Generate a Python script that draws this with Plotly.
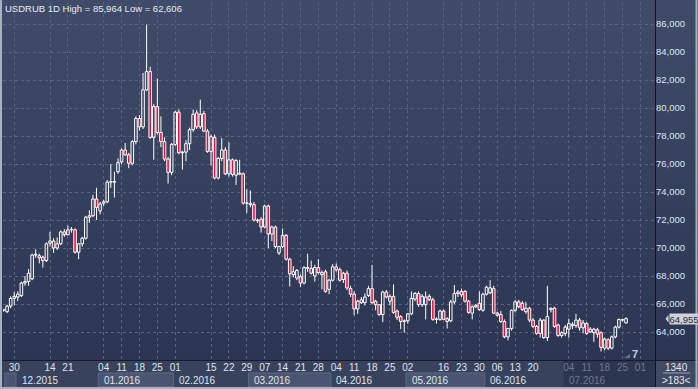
import plotly.graph_objects as go
import pandas as pd

# ---------------- data ----------------
open_ = [65.55, 65.45, 65.85, 66.4, 66.5, 66.6, 67.5, 67.6, 67.8, 69.5,
         69.45, 69.35, 69.1, 70.35, 70.5, 70.0, 70.3, 71.15, 70.95, 71.3,
         71.3, 69.7, 70.3, 70.7, 72.2, 72.3, 73.5, 72.65, 73.2, 73.3,
         74.7, 74.75, 75.45, 76.15, 77.0, 76.65, 76.05, 77.6, 79.25, 78.65,
         81.3, 82.6, 77.9, 80.1, 78.25, 77.6, 76.35, 75.4, 77.4, 79.7,
         76.8, 76.85, 77.45, 78.45, 79.65, 78.65, 79.6, 78.35, 76.9, 77.9,
         75.0, 76.4, 77.0, 75.3, 76.3, 75.2, 75.35, 75.3, 73.2, 73.1,
         73.1, 72.0, 72.05, 71.5, 73.0, 71.0, 71.5, 69.65, 70.1, 70.9,
         69.2, 68.1, 67.85, 67.95, 67.5, 68.6, 68.55, 68.0, 68.6, 68.25,
         68.3, 67.05, 67.7, 68.65, 68.45, 67.75, 68.2, 67.1, 66.7, 65.65,
         66.3, 66.1, 66.6, 67.1, 66.2, 65.95, 65.25, 66.85, 66.2, 66.55,
         65.5, 65.1, 64.75, 64.8, 65.3, 66.35, 66.75, 65.95, 65.95, 66.55,
         66.3, 64.9, 64.9, 65.5, 64.95, 64.8, 66.15, 66.75, 66.9, 66.9,
         66.2,
         65.35, 65.8, 66.05, 65.55, 66.7, 66.8, 67.1, 65.35, 65.25, 64.75,
         63.65, 64.25, 65.55, 66.15, 66.05, 65.45, 65.7, 64.85, 64.4, 63.9,
         64.85, 63.6, 65.6, 65.7, 64.5, 63.75, 63.9, 64.2, 64.45, 64.45,
         64.85, 64.3, 64.6, 64.2, 63.95, 64.15, 63.95, 62.85, 63.45, 62.85,
         63.65, 64.35, 64.88, 64.65]
high = [65.65, 65.95, 66.55, 66.85, 66.9, 67.6, 68.0, 68.5, 69.6, 69.9,
        69.6, 69.45, 70.4, 71.15, 70.7, 70.75, 71.25, 71.35, 71.6, 71.5,
        71.4, 70.35, 70.8, 72.3, 72.7, 73.8, 74.3, 73.3, 73.45, 74.85,
        76.0, 75.45, 76.4, 77.1, 77.5, 76.8, 77.7, 79.4, 79.5, 82.5,
        85.964, 82.95, 80.3, 82.1, 79.4, 77.9, 76.5, 77.5, 79.8, 79.9,
        76.95, 77.7, 78.6, 79.9, 79.85, 80.6, 79.8, 78.5, 78.1, 78.1,
        76.5, 77.85, 77.2, 77.55, 76.4, 76.35, 76.3, 75.4, 74.2, 74.1,
        73.3, 72.1, 72.2, 73.1, 73.1, 71.6, 71.6, 70.15, 71.4, 71.0,
        69.3, 68.7, 68.5, 68.1, 68.7, 69.6, 69.1, 68.8, 69.2, 68.4,
        68.45, 67.8, 68.85, 68.9, 68.6, 68.3, 68.4, 67.3, 66.9, 66.3,
        66.5, 66.75, 67.3, 68.79, 66.3, 66.0, 66.95, 67.0, 66.7, 67.4,
        65.6, 65.2, 64.9, 65.35, 66.9, 66.85, 66.9, 66.7, 66.9, 66.7,
        66.45, 65.05, 65.6, 65.6, 65.05, 66.3, 67.35, 67.0, 67.1, 67.0,
        66.3,
        65.9, 66.0, 66.9, 66.8, 67.3, 67.7, 67.3, 65.45, 65.5, 64.9,
        64.3, 65.6, 66.3, 66.3, 66.2, 66.15, 65.8, 65.0, 64.5, 65.0,
        64.9, 67.3, 65.75, 65.8, 64.6, 64.05, 64.5, 64.95, 64.7, 65.3,
        65.0, 64.85, 64.7, 64.35, 64.3, 64.3, 64.05, 63.6, 63.55, 63.75,
        64.45, 64.95, 64.95, 65.05]
low = [65.45, 65.35, 65.7, 65.9, 66.2, 66.5, 67.3, 67.3, 67.7, 69.3,
       68.9, 68.6, 69.0, 70.1, 69.65, 69.85, 70.2, 70.8, 70.9, 71.1,
       69.6, 69.2, 70.1, 70.6, 71.8, 72.2, 72.0, 72.4, 73.0, 73.2,
       74.3, 73.6, 75.3, 76.0, 76.6, 75.7, 75.9, 77.4, 78.4, 78.5,
       81.2, 77.8, 76.3, 78.1, 77.2, 76.2, 74.6, 75.2, 77.3, 76.7,
       75.6, 76.2, 77.0, 78.3, 78.5, 78.5, 78.3, 76.8, 75.9, 74.9,
       74.9, 76.2, 75.2, 75.1, 75.1, 74.5, 75.2, 73.1, 72.5, 72.9,
       71.9, 71.8, 71.1, 71.4, 70.0, 70.5, 70.0, 69.5, 70.0, 69.1,
       67.25, 67.9, 67.7, 67.2, 67.4, 68.3, 68.1, 67.6, 68.1, 67.05,
       66.8, 66.7, 67.6, 68.3, 67.6, 67.5, 67.0, 66.5, 65.2, 65.3,
       66.0, 65.9, 66.5, 66.0, 65.55, 65.15, 64.7, 66.4, 65.9, 65.3,
       64.85, 64.2, 63.95, 64.6, 65.2, 66.2, 65.8, 65.8, 64.9, 66.2,
       64.8, 64.6, 64.8, 64.85, 64.25, 64.7, 66.0, 66.5, 66.5, 66.1,
       65.3,
       64.9, 65.7, 65.5, 65.45, 66.6, 66.7, 65.3, 65.1, 64.65, 63.55,
       63.4, 64.1, 65.4, 65.7, 65.5, 65.3, 64.7, 64.3, 63.8, 63.6,
       63.5, 63.35, 65.4, 64.3, 63.65, 63.6, 63.7, 63.6, 64.2, 64.3,
       64.1, 63.9, 63.8, 63.95, 63.3, 63.6, 62.606, 62.7, 62.7, 62.75,
       63.55, 64.25, 64.75, 64.6]
close = [65.6, 65.85, 66.4, 66.55, 66.7, 67.5, 67.6, 68.2, 69.5, 69.55,
         69.3, 69.1, 70.3, 70.5, 70.0, 70.3, 71.15, 70.95, 71.3, 71.32,
         69.7, 70.3, 70.7, 72.2, 72.3, 73.5, 72.9, 73.15, 73.3, 74.7,
         74.75, 74.7, 76.1, 77.0, 76.65, 76.05, 77.6, 79.25, 78.65, 81.3,
         82.6, 77.9, 80.1, 78.25, 77.6, 76.35, 75.4, 77.4, 79.7, 76.8,
         76.85, 77.45, 78.45, 79.55, 78.65, 79.55, 78.35, 76.9, 77.95, 75.0,
         76.4, 77.0, 75.3, 76.3, 75.25, 76.25, 75.28, 73.2, 73.22, 73.2,
         72.0, 71.95, 71.5, 73.0, 71.0, 71.5, 70.1, 70.1, 70.9, 69.2,
         68.15, 68.3, 68.4, 67.5, 68.6, 68.55, 68.2, 68.6, 68.25, 68.1,
         66.9, 67.7, 68.65, 68.45, 67.7, 68.2, 67.15, 66.7, 65.65, 66.2,
         66.1, 66.5, 67.1, 66.1, 65.95, 65.25, 66.85, 66.5, 66.55, 65.4,
         65.05, 64.75, 64.8, 65.3, 66.4, 66.75, 65.95, 66.55, 66.5, 66.3,
         64.9, 64.92, 65.5, 64.9, 64.75, 66.15, 66.75, 66.85, 66.65, 66.2,
         65.4,
         65.8, 65.9, 65.6, 66.7, 67.2, 67.15, 65.35, 65.2, 64.75, 63.65,
         64.25, 65.55, 66.15, 65.8, 65.6, 65.7, 64.85, 64.4, 63.9, 64.85,
         63.6, 65.1, 65.7, 64.4, 63.75, 63.95, 64.35, 64.6, 64.55, 64.85,
         64.3, 64.65, 63.9, 64.0, 64.2, 63.85, 62.9, 63.5, 62.85, 63.65,
         64.35, 64.9, 64.85, 64.955]

N = len(close)
calendar = pd.bdate_range("2015-11-25", "2016-08-05")   # trading-day slots
dates = calendar[:N]
x_idx = list(range(N))

tick_dates = ["2015-11-30", "2015-12-14", "2015-12-21", "2016-01-04", "2016-01-11",
              "2016-01-18", "2016-01-25", "2016-02-01", "2016-02-15", "2016-02-22",
              "2016-02-29", "2016-03-07", "2016-03-14", "2016-03-21", "2016-03-28",
              "2016-04-04", "2016-04-11", "2016-04-18", "2016-04-25", "2016-05-02",
              "2016-05-16", "2016-05-23", "2016-05-30", "2016-06-06", "2016-06-13",
              "2016-06-20", "2016-07-04", "2016-07-11", "2016-07-18", "2016-07-25",
              "2016-08-01"]
month_starts = ["2015-11-25", "2015-12-01", "2016-01-01", "2016-02-01", "2016-03-01",
                "2016-04-01", "2016-05-02", "2016-06-01", "2016-07-01"]
month_labels = ["", "12.2015", "01.2016", "02.2016", "03.2016",
                "04.2016", "05.2016", "06.2016", "07.2016"]
price_ticks = [64, 66, 68, 70, 72, 74, 76, 78, 80, 82, 84, 86]
title_text = "USDRUB 1D High = 85,964 Low = 62,606"
dim_from = pd.Timestamp("2016-07-01")

# ---------------- geometry ----------------
W, H = 698, 389
PL, PR, PT, PB = 3, 655, 2, 360
PW, PH = PR - PL, PB - PT
SLOT = 3.578
r0 = (PL - 3.5) / SLOT
r1 = r0 + PW / SLOT
y0v = 62.0
y1v = y0v + PH / 14.0
UP_FILL = "rgba(0,0,0,0)"
DOWN_FILL = "#e3123a"


def pxx(x):
    return (x - PL) / PW


def pxy(y):
    return (PB - y) / PH


def ix(i):
    return (i - r0) / (r1 - r0)


def cal_pos(d):
    return calendar.get_loc(pd.Timestamp(d))


FONT = "Liberation Sans, Arial, sans-serif"

# candle wicks (upper and lower parts, not crossing the hollow bodies)
wx, wy = [], []
for i in range(N):
    top = max(open_[i], close[i])
    bot = min(open_[i], close[i])
    wx += [i, i, None, i, i, None]
    wy += [high[i], top, None, bot, low[i], None]

body_base = [min(o, c) for o, c in zip(open_, close)]
body_len = [max(abs(c - o), 0.02) for o, c in zip(open_, close)]
body_fill = [UP_FILL if c >= o else DOWN_FILL for o, c in zip(open_, close)]

fig = go.Figure()
fig.add_trace(go.Scatter(x=wx, y=wy, mode="lines", line=dict(color="#ffffff", width=1),
                         hoverinfo="skip", showlegend=False))
fig.add_trace(go.Bar(x=x_idx, y=body_len, base=body_base, width=0.72,
                     marker=dict(color=body_fill, line=dict(color="#ffffff", width=1)),
                     hovertext=[d.strftime("%d.%m.%Y") for d in dates], hoverinfo="text",
                     showlegend=False))

tickvals = [cal_pos(d) for d in tick_dates]
ticktext = []
for d in tick_dates:
    t = pd.Timestamp(d)
    s = t.strftime("%d")
    if t >= dim_from:
        s = '<span style="color:#6c7892">' + s + '</span>'
    ticktext.append(s)

shapes = []
# vertical gradient background
top_c = (63, 75, 104)
bot_c = (44, 54, 82)
nb = 36
for k in range(nb):
    f = k / (nb - 1)
    c = tuple(round(top_c[j] + (bot_c[j] - top_c[j]) * f) for j in range(3))
    shapes.append(dict(type="rect", xref="paper", yref="paper", layer="below",
                       x0=pxx(0), x1=pxx(W), y0=pxy(k * 10 + 10.5), y1=pxy(k * 10),
                       fillcolor="rgb(%d,%d,%d)" % c, line=dict(width=0)))
# time-axis band
shapes.append(dict(type="rect", xref="paper", yref="paper", layer="below",
                   x0=pxx(0), x1=pxx(W), y0=pxy(H), y1=pxy(PB),
                   fillcolor="#38425c", line=dict(width=0)))
# month boxes
mpos = [cal_pos(d) for d in month_starts]
for k, p in enumerate(mpos):
    xa = ix(p - 0.5) if k > 0 else pxx(5)
    xb = ix(mpos[k + 1] - 0.5) if k + 1 < len(mpos) else 1.0
    if pd.Timestamp(month_starts[k]) >= dim_from:
        shapes.append(dict(type="rect", xref="paper", yref="paper", layer="below",
                           x0=xa, x1=xb, y0=pxy(387), y1=pxy(360.5),
                           fillcolor="#2d3650", line=dict(width=0)))
    elif k % 2 == 0:
        shapes.append(dict(type="rect", xref="paper", yref="paper", layer="below",
                           x0=xa, x1=xb, y0=pxy(387), y1=pxy(373),
                           fillcolor="#4a5571", line=dict(color="#5c6884", width=1)))
# bottom-right info box
shapes.append(dict(type="rect", xref="paper", yref="paper", layer="below",
                   x0=pxx(PR), x1=pxx(W), y0=pxy(H), y1=pxy(PB),
                   fillcolor="#3f4a65", line=dict(width=0)))
shapes.append(dict(type="line", xref="paper", yref="paper", layer="above",
                   x0=pxx(663), x1=pxx(690), y0=pxy(373), y1=pxy(373),
                   line=dict(color="#9aa5b8", width=1)))
# separators
shapes.append(dict(type="line", xref="paper", yref="paper", layer="above",
                   x0=pxx(PR + 0.5), x1=pxx(PR + 0.5), y0=pxy(H), y1=pxy(0),
                   line=dict(color="#10141e", width=1)))
shapes.append(dict(type="line", xref="paper", yref="paper", layer="above",
                   x0=pxx(0), x1=pxx(W), y0=pxy(PB + 0.5), y1=pxy(PB + 0.5),
                   line=dict(color="#161c2a", width=1)))
# outer light frame (left, right, bottom)
for (xa, ya, xb, yb) in [(1, 0, 1, H), (W - 1.5, 0, W - 1.5, H), (0, H - 1, W, H - 1)]:
    shapes.append(dict(type="line", xref="paper", yref="paper", layer="above",
                       x0=pxx(xa), x1=pxx(xb), y0=pxy(ya), y1=pxy(yb),
                       line=dict(color="#a7b1c1", width=2)))
# current price pointer
last = close[-1]
dv = 4 / 14.0
shapes.append(dict(type="path", xref="paper", yref="y", layer="above",
                   path="M %f,%f L %f,%f L %f,%f Z" % (pxx(665.5), last, pxx(668.5), last + dv,
                                                       pxx(668.5), last - dv),
                   fillcolor="#cdd2db", line=dict(width=0)))
# small marker next to the "7"
shapes.append(dict(type="path", xref="paper", yref="paper", layer="above",
                   path="M %f,%f L %f,%f L %f,%f Z" % (pxx(624), pxy(358), pxx(630), pxy(358),
                                                       pxx(630), pxy(354)),
                   fillcolor="#6b7284", line=dict(width=0)))

ann = []
ann.append(dict(xref="paper", yref="paper", x=pxx(3), y=pxy(8), xanchor="left",
                yanchor="middle", text=title_text, showarrow=False,
                font=dict(family=FONT, size=9.5, color="#e8ecf3")))
for k, p in enumerate(mpos):
    if not month_labels[k]:
        continue
    dim = pd.Timestamp(month_starts[k]) >= dim_from
    ann.append(dict(xref="paper", yref="paper", x=ix(p - 0.5) + 3.5 / PW, y=pxy(380),
                    xanchor="left", yanchor="middle", text=month_labels[k], showarrow=False,
                    font=dict(family=FONT, size=10, color="#6c7892" if dim else "#dfe5ef")))
ann.append(dict(xref="paper", yref="paper", x=pxx(676), y=pxy(367), xanchor="center",
                yanchor="middle", text="1340", showarrow=False,
                font=dict(family=FONT, size=10, color="#e2e7f0")))
ann.append(dict(xref="paper", yref="paper", x=pxx(676), y=pxy(380.5), xanchor="center",
                yanchor="middle", text="&gt;183&lt;", showarrow=False,
                font=dict(family=FONT, size=10, color="#e2e7f0")))
ann.append(dict(xref="paper", yref="paper", x=pxx(635), y=pxy(354), xanchor="center",
                yanchor="middle", text="<b>7</b>", showarrow=False,
                font=dict(family=FONT, size=11, color="#bcd6f2")))
ann.append(dict(xref="paper", yref="y", x=pxx(668.5), y=last, xanchor="left",
                yanchor="middle", text=("%.3f" % last).replace(".", ","), showarrow=False,
                bgcolor="#cdd2db", borderpad=0, width=28, height=10,
                font=dict(family=FONT, size=9.5, color="#1f2a40")))

fig.update_layout(
    width=W, height=H, autosize=False,
    margin=dict(l=PL, r=W - PR, t=PT, b=H - PB, pad=0),
    paper_bgcolor="#36425e", plot_bgcolor="rgba(0,0,0,0)",
    separators=",.",
    font=dict(family=FONT, size=10, color="#dfe5ef"),
    showlegend=False,
    shapes=shapes, annotations=ann,
    xaxis=dict(range=[r0, r1], tickmode="array", tickvals=tickvals, ticktext=ticktext,
               showgrid=True, gridcolor="#56627f", griddash="3px,3px", gridwidth=1,
               zeroline=False, showline=False, ticks="", fixedrange=True,
               tickfont=dict(family=FONT, size=10, color="#dfe5ef")),
    yaxis=dict(range=[y0v, y1v], side="right", tickmode="array", tickvals=price_ticks,
               tickformat=".3f", showgrid=True, gridcolor="#56627f", griddash="3px,3px",
               gridwidth=1, zeroline=False, showline=False, ticks="", fixedrange=True,
               tickfont=dict(family=FONT, size=9.5, color="#dfe5ef")),
)

fig.write_html("out.html", config={"displayModeBar": False},
               post_script="document.body.style.margin='0';document.body.style.overflow='hidden';")
